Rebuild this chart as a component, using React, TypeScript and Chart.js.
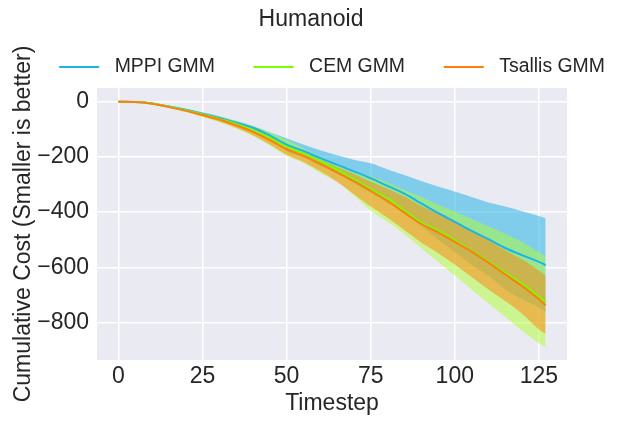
import React, { useEffect, useRef } from 'react'
import { Chart, registerables } from 'chart.js'

Chart.register(...registerables)

// timesteps sampled from the plot
const steps = [0, 5, 10, 15, 20, 25, 30, 35, 40, 45, 50, 55, 60, 65, 70, 75, 80, 85, 90, 95, 100, 105, 110, 115, 120, 125, 127]

// MPPI GMM
const mppiMean = [0, -1, -6, -17, -29, -44, -59, -76, -94, -122, -155, -178, -204, -228, -252, -277, -305, -333, -368, -403, -435, -468, -498, -530, -556, -580, -592]
const mppiUpper = [0, 0, -4, -14, -25, -38, -52, -69, -88, -110, -132, -155, -176, -194, -210, -223, -245, -265, -287, -307, -325, -345, -365, -380, -397, -414, -422]
const mppiLower = [0, -2, -8, -20, -33, -50, -66, -83, -100, -134, -178, -201, -232, -262, -294, -331, -365, -401, -449, -499, -545, -591, -631, -680, -715, -746, -762]

// CEM GMM
const cemMean = [0, -1, -6, -18, -31, -46, -62, -80, -103, -130, -163, -188, -215, -246, -280, -316, -350, -394, -437, -466, -502, -540, -578, -620, -660, -706, -726]
const cemUpper = [0, 0, -4, -14, -25, -39, -53, -70, -88, -110, -138, -168, -198, -225, -250, -270, -293, -320, -345, -372, -398, -425, -452, -478, -508, -545, -558]
const cemLower = [0, -2, -9, -22, -37, -55, -74, -97, -124, -158, -196, -222, -258, -290, -340, -395, -435, -480, -530, -580, -630, -680, -730, -780, -830, -875, -888]

// Tsallis GMM
const tsallisMean = [0, -1, -7, -19, -32, -48, -64, -85, -109, -139, -172, -196, -225, -256, -288, -323, -360, -402, -443, -473, -508, -543, -583, -626, -668, -716, -738]
const tsallisUpper = [0, 0, -5, -16, -28, -44, -59, -78, -99, -127, -158, -183, -210, -236, -262, -290, -315, -343, -378, -405, -432, -466, -500, -538, -572, -612, -631]
const tsallisLower = [0, -2, -9, -22, -36, -53, -71, -94, -121, -155, -192, -218, -252, -290, -335, -380, -420, -465, -510, -548, -590, -635, -680, -722, -768, -825, -841]

const legendOrder = ['MPPI GMM', 'CEM GMM', 'Tsallis GMM']
const xTicks = [0, 25, 50, 75, 100, 125]
const yTicks = [0, -200, -400, -600, -800]

const FONT = '"Liberation Sans", Arial, sans-serif'
const TEXT = '#262626'

const pts = (ys: number[]) => steps.map((x, i) => ({ x, y: ys[i] }))

const fmt = (v: number) => (v < 0 ? '\u2212' + Math.abs(v) : String(v))

const plotBg = {
  id: 'plotBg',
  beforeDraw(chart: any) {
    const { ctx, chartArea: a } = chart
    ctx.save()
    ctx.fillStyle = '#EAEAF2'
    ctx.fillRect(a.left, a.top, a.right - a.left, a.bottom - a.top)
    ctx.restore()
  }
}

// title + matplotlib-like legend above the axes
const header = {
  id: 'header',
  afterDraw(chart: any) {
    const { ctx, chartArea: a, width } = chart
    ctx.save()
    ctx.fillStyle = TEXT
    ctx.font = `23px ${FONT}`
    ctx.textAlign = 'center'
    ctx.textBaseline = 'middle'
    ctx.fillText('Humanoid', width / 2, 20)

    ctx.font = `19.4px ${FONT}`
    ctx.textAlign = 'left'
    const handle = 40, pad = 15.5, gap = 38.8, y = 67
    const items = legendOrder.map(name => chart.data.datasets.find((d: any) => d.label === name))
    const widths = items.map((d: any) => handle + pad + ctx.measureText(d.label).width)
    const total = widths.reduce((s: number, w: number) => s + w, 0) + gap * (items.length - 1)
    let x = (a.left + a.right) / 2 - total / 2
    items.forEach((d: any, i: number) => {
      ctx.strokeStyle = d.borderColor
      ctx.lineWidth = 2
      ctx.beginPath()
      ctx.moveTo(x, y)
      ctx.lineTo(x + handle, y)
      ctx.stroke()
      ctx.fillStyle = TEXT
      ctx.fillText(d.label, x + handle + pad, y)
      x += widths[i] + gap
    })
    ctx.restore()
  }
}

const lineDs = (label: string, ys: number[], color: string) => ({
  label,
  data: pts(ys),
  borderColor: color,
  backgroundColor: color,
  borderWidth: 2,
  pointRadius: 0,
  fill: false,
  cubicInterpolationMode: 'monotone' as const
})

const bandDs = (ys: number[], color: string, target: number | false) => ({
  data: pts(ys),
  borderWidth: 0,
  borderColor: 'rgba(0,0,0,0)',
  backgroundColor: color,
  pointRadius: 0,
  fill: target === false ? false : { target },
  cubicInterpolationMode: 'monotone' as const
})

export default function App() {
  const canvasRef = useRef<HTMLCanvasElement | null>(null)

  useEffect(() => {
    const el = canvasRef.current
    if (!el) return

    const chart = new Chart(el, {
      type: 'line',
      data: {
        datasets: [
          lineDs('Tsallis GMM', tsallisMean, '#FF7F0E'),
          lineDs('CEM GMM', cemMean, '#7CFC00'),
          lineDs('MPPI GMM', mppiMean, '#1CB4EA'),
          bandDs(tsallisUpper, 'rgba(255,127,14,0.5)', 4),
          bandDs(tsallisLower, 'rgba(255,127,14,0.5)', false),
          bandDs(cemUpper, 'rgba(173,255,47,0.5)', 6),
          bandDs(cemLower, 'rgba(173,255,47,0.5)', false),
          bandDs(mppiUpper, 'rgba(40,180,230,0.55)', 8),
          bandDs(mppiLower, 'rgba(40,180,230,0.55)', false)
        ] as any
      },
      options: {
        responsive: false,
        animation: false,
        events: [],
        layout: { padding: { top: 88, right: 55, left: 0, bottom: 0 } },
        plugins: {
          legend: { display: false },
          title: { display: false },
          tooltip: { enabled: false }
        },
        scales: {
          x: {
            type: 'linear',
            min: -6.35,
            max: 133.35,
            afterBuildTicks: (s: any) => { s.ticks = xTicks.map(value => ({ value })) },
            afterFit: (s: any) => { s.height = 66 },
            ticks: { color: TEXT, font: { family: FONT, size: 23 }, padding: 3, maxRotation: 0, callback: (v: any) => fmt(Number(v)) },
            grid: { color: '#ffffff', lineWidth: 1.5, drawTicks: false },
            border: { display: false },
            title: { display: true, text: 'Timestep', color: TEXT, font: { family: FONT, size: 23 }, padding: { top: 0, bottom: 9 } }
          },
          y: {
            type: 'linear',
            min: -936,
            max: 50,
            afterBuildTicks: (s: any) => { s.ticks = yTicks.map(value => ({ value })) },
            afterFit: (s: any) => { s.width = 97 },
            ticks: { color: TEXT, font: { family: FONT, size: 23 }, padding: 8, callback: (v: any) => fmt(Number(v)) },
            grid: { color: '#ffffff', lineWidth: 1.5, drawTicks: false },
            border: { display: false },
            title: { display: true, text: 'Cumulative Cost (Smaller is better)', color: TEXT, font: { family: FONT, size: 23 }, padding: { top: 10, bottom: 0 } }
          }
        }
      },
      plugins: [plotBg, header]
    })

    return () => chart.destroy()
  }, [])

  return (
    <div style={{ position: 'absolute', left: 0, top: 0, width: 622, height: 426, background: '#fff' }}>
      <canvas ref={canvasRef} width={622} height={426}></canvas>
    </div>
  )
}
